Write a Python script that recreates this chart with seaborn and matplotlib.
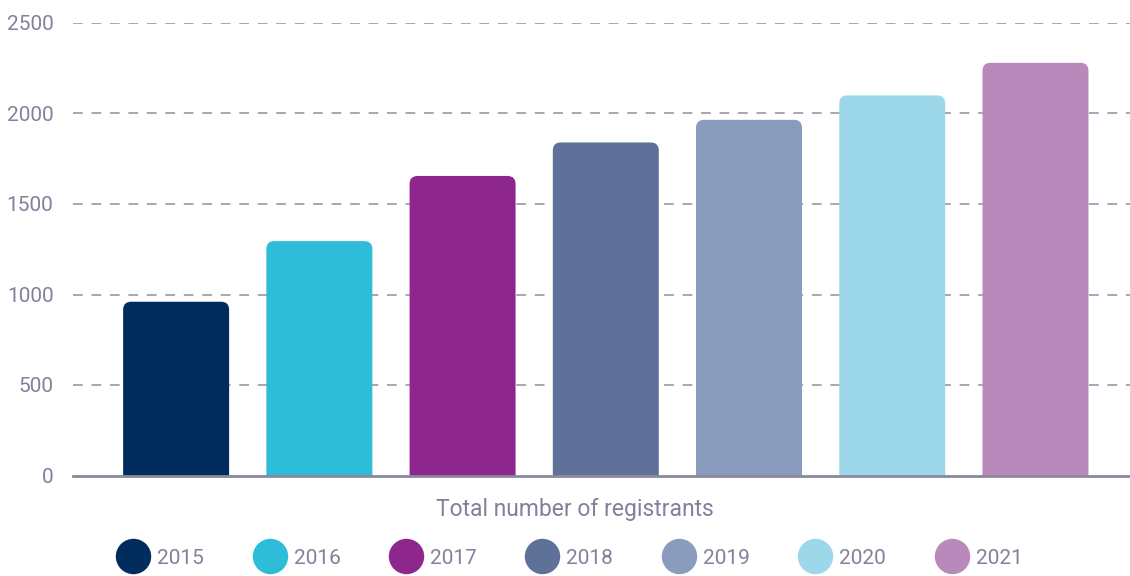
import matplotlib
matplotlib.use('Agg')
import matplotlib.pyplot as plt
import seaborn as sns
import pandas as pd
from matplotlib.patches import FancyBboxPatch
from matplotlib.lines import Line2D

years = ['2015', '2016', '2017', '2018', '2019', '2020', '2021']
registrants = [960, 1295, 1655, 1840, 1965, 2100, 2280]
colors = ['#022c5e', '#2dbdd8', '#8e278d', '#5f7199', '#899cbe', '#9dd8ea', '#b989bb']
yticks = [0, 500, 1000, 1500, 2000, 2500]

df = pd.DataFrame({'year': years, 'registrants': registrants})

sns.set_style('white')
plt.rcParams['font.family'] = ['Roboto', 'DejaVu Sans']
txt = '#857f9c'

fig = plt.figure(figsize=(11.3, 5.76), dpi=100)
ax = fig.add_axes([73 / 1130, 100.5 / 576, 1 - 73 / 1130, (475.5 - 23) / 576])

sns.barplot(data=df, x='year', y='registrants', hue='year', palette=colors,
            width=0.74, legend=False, ax=ax, saturation=1)

# swap the plain bars for rounded-top ones
r = 0.056
aspect = 44 / r
for p in list(ax.patches):
    x, w, h = p.get_x(), p.get_width(), p.get_height()
    fc = p.get_facecolor()
    p.remove()
    ax.add_patch(FancyBboxPatch((x, -80), w, h + 80,
                                boxstyle=f'round,pad=0,rounding_size={r}',
                                mutation_aspect=aspect, fc=fc, ec='none'))

ax.set_xlim(-0.72, 6.66)
ax.set_ylim(0, 2500)
ax.set_yticks(yticks)
ax.set_yticklabels([str(t) for t in yticks], fontsize=15, color=txt)
ax.set_xticks([])
ax.set_xlabel('Total number of registrants', fontsize=16.5, color=txt)
ax.xaxis.set_label_coords((575 - 73) / 1057, -0.05)
ax.set_ylabel('')
ax.tick_params(axis='y', length=0, pad=14)

for t in yticks[1:]:
    ax.axhline(t, color='#a9a5b8', lw=1.4, ls=(0, (5, 4.5)), zorder=0)

for s in ['top', 'right', 'left']:
    ax.spines[s].set_visible(False)
ax.spines['bottom'].set_color('#8c889e')
ax.spines['bottom'].set_linewidth(2)

handles = [Line2D([], [], marker='o', ls='none', markersize=25.5, markerfacecolor=c,
                  markeredgecolor='none') for c in colors]
fig.legend(handles, years, loc='center', bbox_to_anchor=(570 / 1130, 1 - 558 / 576),
           ncol=7, frameon=False, fontsize=15, labelcolor=txt,
           handletextpad=0.4, columnspacing=2.4, handlelength=1.5)

fig.savefig('out.png', dpi=100)
